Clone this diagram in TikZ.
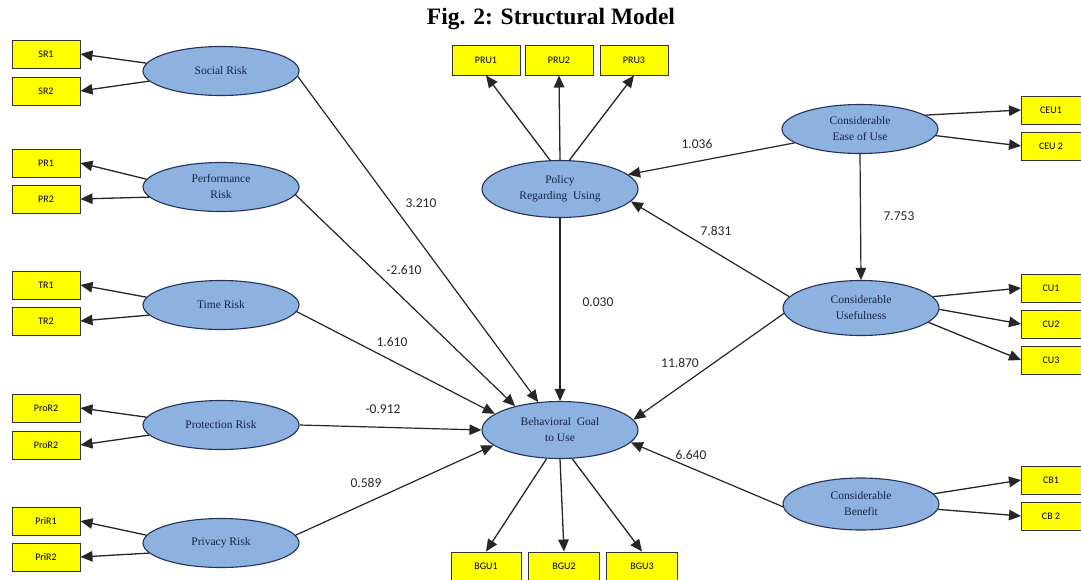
\documentclass[tikz,border=0pt]{standalone}
\usepackage{fontspec}
\setmainfont{Liberation Serif}
\newfontfamily\lblfont{Carlito}
\usetikzlibrary{shapes.geometric,arrows.meta}
\definecolor{ellfill}{RGB}{141,178,224}
\definecolor{elldraw}{RGB}{35,50,90}
\definecolor{elltext}{RGB}{25,35,70}
\definecolor{boxfill}{RGB}{255,255,0}
\definecolor{numtext}{RGB}{40,40,40}
\tikzset{
  latent/.style={ellipse, fill=ellfill, draw=elldraw, line width=1.1pt, minimum width=156pt, minimum height=49pt, inner sep=0pt, align=center, text=elltext, font=\fontsize{11.5}{16}\selectfont},
  ind/.style={rectangle, fill=boxfill, draw=black!80, line width=1pt, minimum width=68pt, minimum height=28pt, inner sep=0pt, font=\lblfont\fontsize{10}{11}\selectfont},
  conn/.style={line width=1.3pt, draw=black!85, -{Triangle[length=12pt,width=10.5pt]}},
  path/.style={line width=1.2pt, draw=black!85, -{Triangle[length=12pt,width=10.5pt]}},
  coef/.style={font=\lblfont\fontsize{13.5}{14}\selectfont, text=numtext, inner sep=1pt}
}
\begin{document}
\begin{tikzpicture}[x=1pt,y=-1pt]
\clip (0,0) rectangle (1081,579);
\fill[white] (0,0) rectangle (1081,579);
\node[font=\bfseries\fontsize{23.5}{26}\selectfont] (title) at (551,19) {Fig. 2: Structural Model};

% left latent variables
\node[latent] (sr) at (221,71) {Social Risk};
\node[latent] (pr) at (221,187) {Performance\\Risk};
\node[latent] (tr) at (221,305) {Time Risk};
\node[latent] (por) at (221,425) {Protection Risk};
\node[latent] (pvr) at (221,543) {Privacy Risk};

% centre
\node[latent, minimum height=57pt] (pru) at (560,189) {Policy\\Regarding\ \ Using};
\node[latent, minimum height=57pt] (bgu) at (560,430) {Behavioral\ \ Goal\\to Use};

% right
\node[latent] (ceu) at (860,129) {Considerable\\Ease of Use};
\node[latent, minimum height=55pt] (cu) at (861,308) {Considerable\\Usefulness};
\node[latent, minimum height=52pt] (cb) at (861,504) {Considerable\\Benefit};

% indicators left
\node[ind] (sr1) at (46,54) {SR1};
\node[ind] (sr2) at (46,91) {SR2};
\node[ind] (pr1) at (46,163) {PR1};
\node[ind] (pr2) at (46,199) {PR2};
\node[ind] (tr1) at (46,285) {TR1};
\node[ind] (tr2) at (46,321) {TR2};
\node[ind] (por1) at (46,408) {ProR2};
\node[ind] (por2) at (46,445) {ProR2};
\node[ind] (pvr1) at (46,521) {PriR1};
\node[ind] (pvr2) at (46,557) {PriR2};

% indicators top / bottom
\node[ind, minimum height=30pt] (pru1) at (486,60) {PRU1};
\node[ind, minimum height=30pt] (pru2) at (559,60) {PRU2};
\node[ind, minimum height=30pt] (pru3) at (634,60) {PRU3};
\node[ind, minimum width=70pt] (bgu1) at (486,566) {BGU1};
\node[ind, minimum width=71pt] (bgu2) at (564,566) {BGU2};
\node[ind, minimum width=71pt] (bgu3) at (642,566) {BGU3};

% indicators right
\node[ind, anchor=west] (ceu1) at (1021,110) {\hspace*{-9pt}CEU1};
\node[ind, anchor=west] (ceu2) at (1021,146) {\hspace*{-9pt}CEU 2};
\node[ind, anchor=west] (cu1) at (1021,288) {\hspace*{-9pt}CU1};
\node[ind, anchor=west] (cu2) at (1021,324) {\hspace*{-9pt}CU2};
\node[ind, anchor=west] (cu3) at (1021,360) {\hspace*{-9pt}CU3};
\node[ind, anchor=west] (cb1) at (1021,480) {\hspace*{-9pt}CB1};
\node[ind, anchor=west] (cb2) at (1021,516) {\hspace*{-9pt}CB 2};

% measurement arrows left
\foreach \l/\a/\b in {sr/sr1/sr2, pr/pr1/pr2, tr/tr1/tr2, por/por1/por2, pvr/pvr1/pvr2}{
  \draw[conn] (\l.174) -- (\a.east);
  \draw[conn] (\l.188) -- (\b.east);
}
% top
\draw[conn] (pru.109) -- (pru1.south);
\draw[conn] (pru.90) -- (pru2.south);
\draw[conn] (pru.72) -- (pru3.south);
% bottom
\draw[conn] (bgu.-115) -- (bgu1.north);
\draw[conn] (bgu.-90) -- (bgu2.north);
\draw[conn] (bgu.-67) -- (bgu3.north);
% right
\draw[conn] (ceu.12) -- (ceu1.west);
\draw[conn] (ceu.-5) -- (ceu2.west);
\draw[conn] (cu.9) -- (cu1.west);
\draw[conn] (cu.-1) -- (cu2.west);
\draw[conn] (cu.-12) -- (cu3.west);
\draw[conn] (cb.8) -- (cb1.west);
\draw[conn] (cb.-4) -- (cb2.west);

% structural paths
\draw[path] (sr.-4) -- (bgu.128);
\draw[path] (pr.-6) -- (bgu.152);
\draw[path] (tr.-5) -- (bgu.166);
\draw[path] (por.0) -- (bgu.180);
\draw[path] (pvr.6) -- (bgu.193);
\draw[path] (pru.-90) -- (bgu.90);
\draw[path] (ceu.192) -- (pru.12);
\draw[path] (cu.171) -- (pru.-10);
\draw[path] (cu.184) -- (bgu.8);
\draw[path] (cb.182) -- (bgu.-10);
\draw[path] (ceu.-90) -- (cu.90);

% coefficients
\node[coef] (c1) at (421,203) {3.210};
\node[coef] (c2) at (404,270) {-2.610};
\node[coef] (c3) at (392,342) {1.610};
\node[coef] (c4) at (383,409) {-0.912};
\node[coef] (c5) at (366,483) {0.589};
\node[coef] (c6) at (598,302) {0.030};
\node[coef] (c7) at (697,144) {1.036};
\node[coef] (c8) at (716,231) {7.831};
\node[coef] (c9) at (899,216) {7.753};
\node[coef] (c10) at (680,363) {11.870};
\node[coef] (c11) at (691,455) {6.640};
\end{tikzpicture}
\end{document}
